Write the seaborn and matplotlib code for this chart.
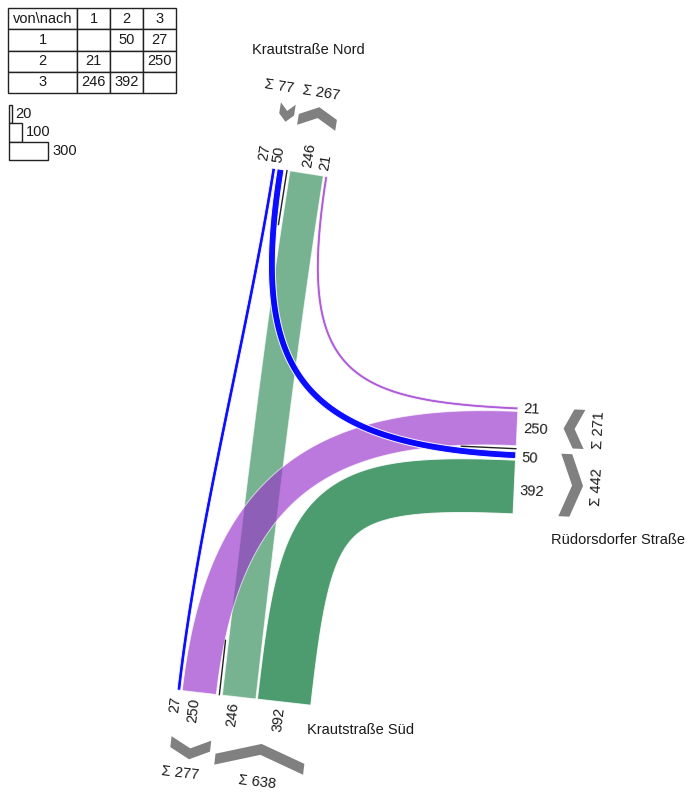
import numpy as np
import matplotlib
matplotlib.use("Agg")
import matplotlib.pyplot as plt
from matplotlib.patches import Polygon
import seaborn as sns

# ---- data ----
node_ids = ["1", "2", "3"]
node_names = ["Krautstraße Nord", "Rüdorsdorfer Straße", "Krautstraße Süd"]
# von (row) nach (column)
od_matrix = [
    [None, 50, 27],
    [21, None, 250],
    [246, 392, None],
]
legend_values = [20, 100, 300]

# ---- layout (pixels, y down) ----
W_PX, H_PX = 694, 802
SCALE = 0.137   # px per vehicle
GAP = 1.6
SEP = 4.5
HUB = np.array([330.0, 430.0])

# stop line of each arm: start point and direction
arms = [
    dict(origin=(272, 168), along=(57, 9)),     # 1 Nord
    dict(origin=(518, 407), along=(-5, 108)),   # 2 Rüdorsdorfer
    dict(origin=(177, 690), along=(132, 15)),   # 3 Süd
]
lanes = [
    [("out", 2), ("out", 1), "|", ("in", 2), ("in", 1)],
    [("out", 0), ("out", 2), "|", ("in", 0), ("in", 2)],
    [("in", 0), ("in", 1), "|", ("out", 0), ("out", 1)],
]
# bezier handle lengths (source side, target side)
handles = {(0, 1): (200, 220), (0, 2): (170, 170), (1, 0): (170, 200),
           (1, 2): (190, 212), (2, 0): (170, 170), (2, 1): (195, 195)}
node_colors = ["#0000ff", "#9932cc", "#2e8b57"]
alphas = {(0, 1): 0.95, (0, 2): 0.95, (1, 0): 0.8,
          (1, 2): 0.65, (2, 0): 0.65, (2, 1): 0.85}
zorders = {(2, 0): 2, (1, 2): 3, (2, 1): 4, (1, 0): 5, (0, 2): 6, (0, 1): 7}
label_nudge = [[-12, -4, 0, -3], [0, 0, 3, 4], [-2, -4, -4, -3]]
sum_nudge = [[-12, 0], [0, 0], [-7, 0]]
name_pos = [(308, 50, "center"), (618, 540, "center"), (307, 730, "left")]
FS = 10.5
TXT = "#1a1a1a"

sns.set_theme(style="white")
plt.rcParams["font.family"] = ["Liberation Sans", "DejaVu Sans"]

fig = plt.figure(figsize=(W_PX / 100, H_PX / 100), dpi=100)
ax = fig.add_axes([0, 0, 1, 1])
ax.set_xlim(0, W_PX)
ax.set_ylim(H_PX, 0)
ax.axis("off")


def bezier(p0, p1, p2, p3, num=240):
    t = np.linspace(0, 1, num)[:, None]
    return (1 - t) ** 3 * p0 + 3 * (1 - t) ** 2 * t * p1 + 3 * (1 - t) * t ** 2 * p2 + t ** 3 * p3


def band(center, width):
    d = np.gradient(center, axis=0)
    d /= np.linalg.norm(d, axis=1)[:, None]
    nrm = np.column_stack([-d[:, 1], d[:, 0]])
    return np.vstack([center + nrm * width / 2, (center - nrm * width / 2)[::-1]])


def angle_of(vec):
    # screen vector -> text angle in degrees, kept upright
    a = np.degrees(np.arctan2(-vec[1], vec[0]))
    flipped = False
    if a > 90:
        a -= 180
        flipped = True
    elif a < -90:
        a += 180
        flipped = True
    return a, flipped


# ---- lane geometry per arm ----
geo = []
for k, arm in enumerate(arms):
    o = np.array(arm["origin"], float)
    e = np.array(arm["along"], float)
    e /= np.linalg.norm(e)
    n = np.array([-e[1], e[0]])
    if np.dot(n, HUB - o) < 0:
        n = -n
    cursor, pos, groups, cur = 0.0, {}, [], []
    sep_s = None
    for item in lanes[k]:
        if item == "|":
            sep_s = cursor + (SEP - GAP) / 2
            cursor += SEP
            groups.append(cur)
            cur = []
            continue
        kind, other = item
        v = od_matrix[k][other] if kind == "out" else od_matrix[other][k]
        w = v * SCALE
        pos[item] = (o + e * (cursor + w / 2), w, v)
        cur.append((cursor, cursor + w, kind, v))
        cursor += w + GAP
    groups.append(cur)
    geo.append(dict(o=o, e=e, n=n, pos=pos, groups=groups, sep=sep_s))

# ---- flows ----
for i in range(3):
    for j in range(3):
        v = od_matrix[i][j]
        if v is None:
            continue
        a, w, _ = geo[i]["pos"][("out", j)]
        b, _, _ = geo[j]["pos"][("in", i)]
        ka, kb = handles[(i, j)]
        c = bezier(a, a + geo[i]["n"] * ka, b + geo[j]["n"] * kb, b)
        ax.add_patch(Polygon(band(c, w), closed=True, facecolor=node_colors[i],
                             alpha=alphas[(i, j)], edgecolor="white", linewidth=0.7,
                             zorder=zorders[(i, j)]))

# ---- separators, lane labels, sums ----
for k, g in enumerate(geo):
    o, e, n = g["o"], g["e"], g["n"]
    p0 = o + e * g["sep"]
    p1 = p0 + n * 55
    ax.plot([p0[0], p1[0]], [p0[1], p1[1]], color="#222222", lw=1.0, zorder=8)

    rot, flip = angle_of(-n)
    idx = 0
    for item in lanes[k]:
        if item == "|":
            continue
        pt, w, v = g["pos"][item]
        lp = pt - n * 6 + e * label_nudge[k][idx]
        ax.text(lp[0], lp[1], str(v), rotation=rot, rotation_mode="anchor",
                ha="right" if flip else "left", va="center", fontsize=FS, color=TXT, zorder=9)
        idx += 1

    srot, _ = angle_of(e)
    for gi, grp in enumerate(g["groups"]):
        s0, s1 = grp[0][0], grp[-1][1]
        kind = grp[0][2]
        total = sum(x[3] for x in grp)
        mid = o + e * (s0 + s1) / 2
        width = max(total * SCALE + 2, 15)
        depth = 6 + 0.1 * width
        thick = 11
        p = n if kind == "out" else -n
        cc = mid - n * 57
        local = [(-width / 2, 0), (0, depth), (width / 2, 0),
                 (width / 2, thick), (0, depth + thick), (-width / 2, thick)]
        pts = [cc + e * u + p * (vv - (depth + thick) / 2) for u, vv in local]
        ax.add_patch(Polygon(pts, closed=True, facecolor="#808080", edgecolor="none", zorder=6))
        tp = mid - n * 82 + e * sum_nudge[k][gi]
        ax.text(tp[0], tp[1], f"Σ {total}", rotation=srot, rotation_mode="anchor",
                ha="center", va="center", fontsize=FS, color=TXT)

# ---- street names ----
for name, (x, y, ha) in zip(node_names, name_pos):
    ax.text(x, y, name, ha=ha, va="center", fontsize=FS, color=TXT)

# ---- OD table ----
cell_text = [["von\\nach"] + node_ids]
for i, row in enumerate(od_matrix):
    cell_text.append([node_ids[i]] + ["" if v is None else str(v) for v in row])
tbl = ax.table(cellText=cell_text, cellLoc="center",
               colWidths=[69 / W_PX, 33 / W_PX, 33 / W_PX, 33 / W_PX],
               bbox=[8 / W_PX, 1 - 93 / H_PX, 168 / W_PX, 85 / H_PX])
tbl.auto_set_font_size(False)
tbl.set_fontsize(FS)
for cell in tbl.get_celld().values():
    cell.set_edgecolor("#222222")
    cell.set_linewidth(1.0)
    cell.PAD = 0.02
    cell.get_text().set_color(TXT)

# ---- width legend ----
leg_y = [105, 123, 142]
leg_h = [18, 19, 18]
leg_w = [v * 0.13 for v in legend_values]
ax.barh(leg_y, leg_w, height=leg_h, left=9, align="edge",
        color="white", edgecolor="#222222", linewidth=1.0)
for y, h, w, v in zip(leg_y, leg_h, leg_w, legend_values):
    ax.text(9 + w + 4, y + h / 2, str(v), ha="left", va="center", fontsize=FS, color=TXT)

fig.savefig("out.png", dpi=100)
